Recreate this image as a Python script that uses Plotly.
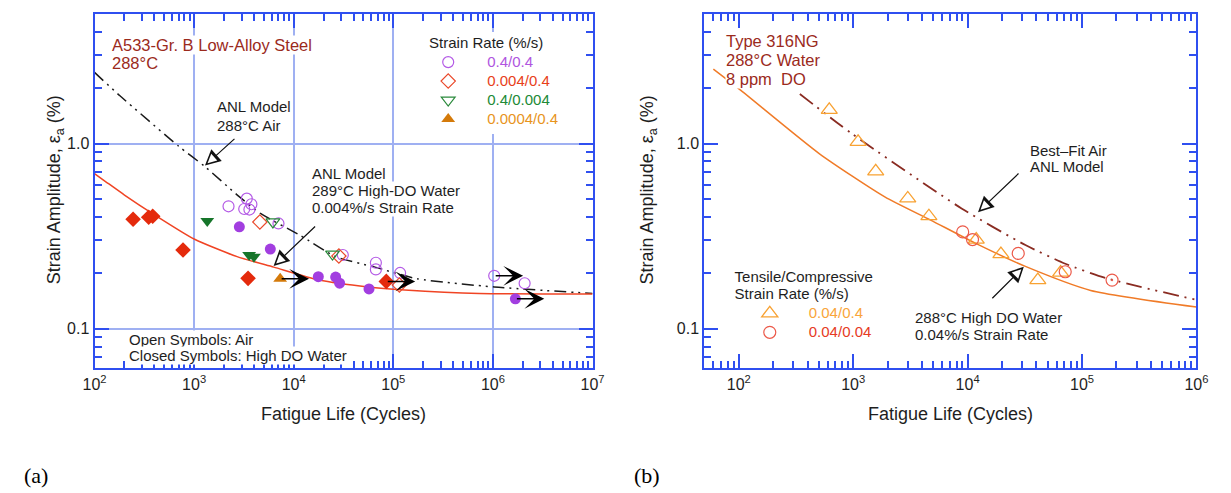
import math
import plotly.graph_objects as go

# The page body has an 8 px default margin: draw a figure 8 px smaller and
# express every layout position in window pixels minus that offset.
WIN_W, WIN_H = 1231, 493
OFF = 8
W, H = WIN_W - OFF, WIN_H - OFF
FONT = "Liberation Sans, Arial, sans-serif"
BLUE = "#2f4ff0"
GRID = "#9fb0f2"
DARKRED = "#9b2a1c"
TXT = "#1e1e1e"

# ---------------- Panel (a): A533-Gr. B low-alloy steel, 288 C ----------------
# open symbols: air
a_air_04_04_N = [2215, 3380, 3760, 3185, 3590, 7030, 31100, 66800, 66800, 117000, 1030000, 2080000]
a_air_04_04_eps = [0.458, 0.504, 0.470, 0.443, 0.440, 0.370, 0.250, 0.227, 0.209, 0.200, 0.193, 0.176]
a_air_0004_04_N = [4570, 28400, 115000]
a_air_0004_04_eps = [0.377, 0.247, 0.172]
a_air_04_0004_N = [6180, 24500]
a_air_04_0004_eps = [0.377, 0.253]
# closed symbols: high-DO water
a_wat_04_04_N = [2845, 5820, 17660, 26360, 28900, 57000, 1680000]
a_wat_04_04_eps = [0.355, 0.269, 0.191, 0.190, 0.176, 0.164, 0.145]
a_wat_0004_04_N = [244, 350, 384, 774, 3480, 85000]
a_wat_0004_04_eps = [0.390, 0.400, 0.405, 0.266, 0.187, 0.180]
a_wat_04_0004_N = [1355, 3566, 3990]
a_wat_04_0004_eps = [0.382, 0.250, 0.245]
a_wat_00004_04_N = [7310]
a_wat_00004_04_eps = [0.186]
# run-outs (arrows)
a_runout_N = [7310, 85000, 1030000, 1680000]
a_runout_eps = [0.186, 0.180, 0.193, 0.145]
# ANL model curves
a_air_model_N = [100, 180, 702, 1285, 2735, 4640, 11500, 26400, 65300, 174000, 1030000, 10000000]
a_air_model_eps = [2.42, 1.81, 0.965, 0.75, 0.525, 0.419, 0.320, 0.245, 0.215, 0.186, 0.168, 0.155]
a_wat_model_N = [100, 125, 200, 400, 1000, 2700, 6300, 18000, 56000, 130000, 730000, 10000000]
a_wat_model_eps = [0.687, 0.631, 0.527, 0.412, 0.305, 0.245, 0.215, 0.183, 0.168, 0.162, 0.155, 0.154]

# ---------------- Panel (b): Type 316NG, 288 C water, 8 ppm DO ----------------
b_004_04_N = [618, 1104, 1574, 3000, 4590, 11900, 19550, 41100, 65000]
b_004_04_eps = [1.52, 1.02, 0.707, 0.505, 0.405, 0.303, 0.253, 0.183, 0.201]
b_004_004_N = [9060, 11040, 27700, 71300, 183000]
b_004_004_eps = [0.333, 0.303, 0.255, 0.203, 0.183]
b_004_004_sym = ["circle-open", "circle-open", "circle-open", "circle-open", "circle-open-dot"]
b_air_model_N = [342, 980, 8850, 32000, 70500, 165000, 1000000]
b_air_model_eps = [1.85, 1.127, 0.446, 0.283, 0.225, 0.187, 0.143]
b_wat_model_N = [60, 105, 508, 1890, 4750, 11900, 32000, 119000, 1000000]
b_wat_model_eps = [2.52, 1.93, 0.88, 0.515, 0.386, 0.288, 0.217, 0.161, 0.131]

a_xticks = [1e2, 1e3, 1e4, 1e5, 1e6, 1e7]
b_xticks = [1e2, 1e3, 1e4, 1e5, 1e6]
yticks = [0.1, 1.0]
ytick_text = ["0.1", "1.0"]
Y_MIN, Y_MAX = 0.061, 5.0


def sup_labels(vals):
    return ["10<sup>%d</sup>" % round(math.log10(v)) for v in vals]


def minor_vals(lo, hi):
    out = []
    for k in range(math.floor(lo) - 1, math.ceil(hi) + 1):
        for d in range(2, 10):
            v = d * 10 ** k
            if 10 ** lo <= v <= 10 ** hi:
                out.append(v)
    return out


def span(text, color=None, size=15):
    st = "font-size:%dpx" % size
    if color:
        st += ";color:%s" % color
    return '<span style="%s">%s</span>' % (st, text)


def PX(x):
    return (x - OFF) / W


def PY(y):
    return 1 - (y - OFF) / H


fig = go.Figure()

# ---- panel (a) traces ----
fig.add_trace(go.Scatter(x=a_air_model_N, y=a_air_model_eps, mode="lines", showlegend=False,
                         line=dict(color="#1a1a1a", width=1.5, dash="12px,5px,2px,5px,2px,5px", shape="spline", smoothing=0.6),
                         xaxis="x", yaxis="y"))
fig.add_trace(go.Scatter(x=a_wat_model_N, y=a_wat_model_eps, mode="lines", showlegend=False,
                         line=dict(color="#f04424", width=1.5, shape="spline", smoothing=0.6),
                         xaxis="x", yaxis="y"))
fig.add_trace(go.Scatter(x=a_wat_04_04_N, y=a_wat_04_04_eps, mode="markers", showlegend=False,
                         marker=dict(symbol="circle", size=11, color="#a23ee0"), xaxis="x", yaxis="y"))
fig.add_trace(go.Scatter(x=a_wat_0004_04_N, y=a_wat_0004_04_eps, mode="markers", showlegend=False,
                         marker=dict(symbol="diamond", size=12, color="#e42a0c"), xaxis="x", yaxis="y"))
fig.add_trace(go.Scatter(x=a_wat_04_0004_N, y=a_wat_04_0004_eps, mode="markers", showlegend=False,
                         marker=dict(symbol="triangle-down", size=12, color="#16752a"), xaxis="x", yaxis="y"))
fig.add_trace(go.Scatter(x=a_air_04_04_N, y=a_air_04_04_eps, mode="markers", legend="legend",
                         name=span("0.4/0.4", "#b055e0"),
                         marker=dict(symbol="circle-open", size=11, color="#b45be6", line=dict(width=1.2)),
                         xaxis="x", yaxis="y"))
fig.add_trace(go.Scatter(x=a_air_0004_04_N, y=a_air_0004_04_eps, mode="markers", legend="legend",
                         name=span("0.004/0.4", "#e8401a"),
                         marker=dict(symbol="diamond-open", size=11, color="#ea4a2c", line=dict(width=1.2)),
                         xaxis="x", yaxis="y"))
fig.add_trace(go.Scatter(x=a_air_04_0004_N, y=a_air_04_0004_eps, mode="markers", legend="legend",
                         name=span("0.4/0.004", "#218a36"),
                         marker=dict(symbol="triangle-down-open", size=12, color="#2b8a3c", line=dict(width=1.2)),
                         xaxis="x", yaxis="y"))
fig.add_trace(go.Scatter(x=a_wat_00004_04_N, y=a_wat_00004_04_eps, mode="markers", legend="legend",
                         name=span("0.0004/0.4", "#e8941c"),
                         marker=dict(symbol="triangle-up", size=12, color="#d47a0a"),
                         xaxis="x", yaxis="y"))

# ---- panel (b) traces ----
fig.add_trace(go.Scatter(x=b_air_model_N, y=b_air_model_eps, mode="lines", showlegend=False,
                         line=dict(color="#8a2c22", width=1.8, dash="16px,6px,2px,6px,2px,6px", shape="spline", smoothing=0.6),
                         xaxis="x2", yaxis="y2"))
fig.add_trace(go.Scatter(x=b_wat_model_N, y=b_wat_model_eps, mode="lines", showlegend=False,
                         line=dict(color="#f07b28", width=1.5, shape="spline", smoothing=0.6),
                         xaxis="x2", yaxis="y2"))
fig.add_trace(go.Scatter(x=b_004_04_N, y=b_004_04_eps, mode="markers", legend="legend2",
                         name=span("0.04/0.4", "#f9a53a"),
                         marker=dict(symbol="triangle-up-open", size=14, color="#f8a233", line=dict(width=1.3)),
                         xaxis="x2", yaxis="y2"))
fig.add_trace(go.Scatter(x=b_004_004_N, y=b_004_004_eps, mode="markers", legend="legend2",
                         name=span("0.04/0.04", "#e63a24"),
                         marker=dict(symbol=b_004_004_sym, size=12, color="#ec5a4a", line=dict(width=1.2)),
                         xaxis="x2", yaxis="y2"))

# ---------------- axes ----------------
YR = [math.log10(Y_MIN), math.log10(Y_MAX)]
PX_PER_DEC = 185.2          # vertical pixels per decade
Y_ONE = 143.5               # window y of eps = 1.0
Y_TOP = Y_ONE - PX_PER_DEC * YR[1]
Y_BOT = Y_ONE - PX_PER_DEC * YR[0]
YDOM = [PY(Y_BOT), PY(Y_TOP)]


def xaxis(rng, dom, ticks, anchor, grid):
    return dict(type="log", range=rng, domain=dom, anchor=anchor,
                tickmode="array", tickvals=ticks, ticktext=sup_labels(ticks),
                ticks="inside", ticklen=14, tickwidth=1.5, tickcolor=BLUE,
                showline=True, linecolor=BLUE, linewidth=2, mirror="ticks",
                showgrid=grid, gridcolor=GRID, gridwidth=1.5, zeroline=False,
                minor=dict(tickmode="array", tickvals=minor_vals(rng[0], rng[1]), ticks="inside",
                           ticklen=7, tickwidth=1.5, tickcolor=BLUE, showgrid=False),
                tickfont=dict(size=16, color=TXT, family=FONT))


def yaxis(anchor, grid):
    return dict(type="log", range=YR, domain=YDOM, anchor=anchor,
                tickmode="array", tickvals=yticks, ticktext=ytick_text,
                ticks="inside", ticklen=14, tickwidth=1.5, tickcolor=BLUE,
                showline=True, linecolor=BLUE, linewidth=2, mirror="ticks",
                showgrid=grid, gridcolor=GRID, gridwidth=1.5, zeroline=False,
                minor=dict(tickmode="array", tickvals=minor_vals(YR[0], YR[1]), ticks="inside",
                           ticklen=7, tickwidth=1.5, tickcolor=BLUE, showgrid=False),
                tickfont=dict(size=16, color=TXT, family=FONT))


B_XR = [math.log10(50), 6]
fig.update_layout(
    xaxis=xaxis([2, 7], [PX(84), PX(592)], a_xticks, "y", True),
    yaxis=yaxis("x", True),
    xaxis2=xaxis(B_XR, [PX(706), PX(1208)], b_xticks, "y2", False),
    yaxis2=yaxis("x2", False),
)

ann = []


def text(t, x, y, size=15, color=TXT, bg=True, xanchor="left", family=FONT, angle=0):
    ann.append(dict(text=t, x=PX(x), y=PY(y), xref="paper", yref="paper", xanchor=xanchor, yanchor="middle",
                    showarrow=False, textangle=angle,
                    font=dict(size=size, color=color, family=family),
                    bgcolor="white" if bg else "rgba(0,0,0,0)", borderpad=0))


# panel (a) texts
text("A533-Gr. B Low-Alloy Steel", 101, 45, 16.5, DARKRED)
text("288°C", 101, 63, 16.5, DARKRED)
text("ANL Model", 208, 107)
text("288°C Air", 208, 125)
text("ANL Model", 305, 173)
text("289°C High-DO Water", 305, 190)
text("0.004%/s Strain Rate", 305, 207)
text("Open Symbols: Air", 118, 339)
text("Closed Symbols: High DO Water", 118, 355)
# panel (b) texts
text("Type 316NG", 727, 41, 16.5, DARKRED)
text("288°C Water", 727, 60, 16.5, DARKRED)
text("8 ppm  DO", 727, 79, 16.5, DARKRED)
text("Best\u2013Fit Air", 1037, 150)
text("ANL Model", 1037, 167)
text("288°C High DO Water", 920, 317)
text("0.04%/s Strain Rate", 920, 334)
# axis titles
for cx in (338, 957):
    text("Fatigue Life (Cycles)", cx, 414, 18, xanchor="center", bg=False)
text("Strain Amplitude, \u03b5<sub>a</sub> (%)", 44, 190, 18, xanchor="center", bg=False, angle=-90)
text("Strain Amplitude, \u03b5<sub>a</sub> (%)", 649, 190, 18, xanchor="center", bg=False, angle=-90)
text("(a)", 11, 475, 22, "#000", bg=False, family="Liberation Serif, Times New Roman, serif")
text("(b)", 633, 475, 22, "#000", bg=False, family="Liberation Serif, Times New Roman, serif")

# run-out arrows (panel a)
RUN_LEN = 0.29  # decades
for n, e in zip(a_runout_N, a_runout_eps):
    ann.append(dict(x=math.log10(n) + RUN_LEN, y=math.log10(e), xref="x", yref="y",
                    ax=math.log10(n), ay=math.log10(e), axref="x", ayref="y",
                    showarrow=True, arrowhead=3, arrowsize=2.2, arrowwidth=1.5, arrowcolor="#000", text=""))


# pointer arrows with open heads
def pointer(xl, yl, dx, dy, xr, yr):
    ann.append(dict(x=xl, y=yl, xref=xr, yref=yr, ax=dx, ay=dy, showarrow=True, text="",
                    arrowhead=2, arrowsize=2.6, arrowwidth=1.2, arrowcolor="#111"))
    L = math.hypot(dx, dy)
    ann.append(dict(x=xl, y=yl, xref=xr, yref=yr, ax=dx / L * 13, ay=dy / L * 13, showarrow=True, text="",
                    arrowhead=2, arrowsize=1.5, arrowwidth=1.2, arrowcolor="white", standoff=3.5))


pointer(math.log10(1285), math.log10(0.76), 31, -28, "x", "y")
pointer(math.log10(6280), math.log10(0.218), 43, -41, "x", "y")
pointer(math.log10(12330), math.log10(0.426), 42, -40, "x2", "y2")
pointer(math.log10(31000), math.log10(0.216), -33, 33, "x2", "y2")

fig.update_layout(
    annotations=ann,
    width=W, height=H, autosize=False,
    margin=dict(l=0, r=0, t=0, b=0),
    paper_bgcolor="white", plot_bgcolor="white",
    font=dict(family=FONT, color=TXT),
    legend=dict(x=PX(405), y=PY(32), xanchor="left", yanchor="top", bgcolor="white",
                font=dict(size=12, family=FONT, color=TXT), itemwidth=68, tracegroupgap=0,
                title=dict(text=span("Strain Rate (%/s)"), side="top center", font=dict(size=12, family=FONT))),
    legend2=dict(x=PX(733), y=PY(265), xanchor="left", yanchor="top", bgcolor="rgba(0,0,0,0)",
                 font=dict(size=12, family=FONT, color=TXT), itemwidth=68, tracegroupgap=0,
                 entrywidth=90,
                 title=dict(text=span("Tensile/Compressive") + "<br>" + span("Strain Rate (%/s)"),
                            side="top center", font=dict(size=13, family=FONT))),
)

fig.write_html("out.html")
